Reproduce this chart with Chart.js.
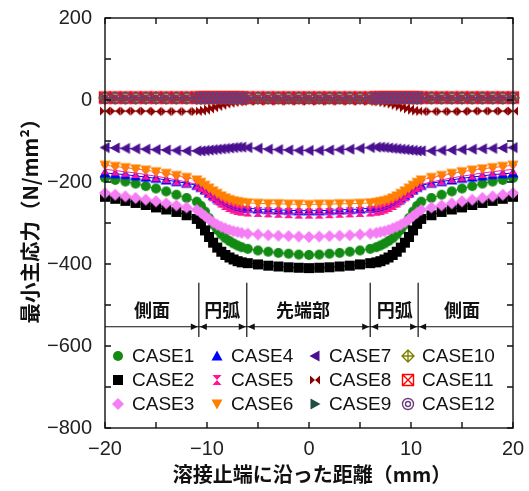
<!DOCTYPE html>
<html lang="ja">
<head>
<meta charset="UTF-8">
<title>最小主応力</title>
<style>
body { margin:0; padding:0; background:#fff; }
#wrap { width:529px; height:491px; position:relative; }
</style>
</head>
<body>
<div id="wrap"><canvas id="c"></canvas></div>
<script src="https://cdn.jsdelivr.net/npm/chart.js"></script>
<script>
// distance along weld toe (mm)
const xs = [-20,-19,-18,-17,-16,-15,-14,-13,-12,-11,
  -10.6,-10.2,-9.8,-9.4,-9,-8.6,-8.2,-7.8,-7.4,-7,-6.6,
  -6,-5,-4,-3,-2,-1,0,1,2,3,4,5,6,
  6.6,7,7.4,7.8,8.2,8.6,9,9.4,9.8,10.2,10.6,
  11,12,13,14,15,16,17,18,19,20];

const case1 = [-190,-195,-199,-204,-210,-216,-223,-231,-239,-248,
  -258,-272,-288,-304,-317,-328,-337,-344,-350,-355,-359,
  -363,-367,-370,-373,-375,-377,-378,-377,-375,-373,-370,-367,-363,
  -359,-355,-350,-344,-337,-328,-317,-304,-288,-272,-258,
  -248,-239,-231,-223,-216,-210,-204,-199,-195,-190];
const case2 = [-236,-241,-246,-251,-256,-262,-267,-273,-281,-290,
  -302,-318,-334,-348,-360,-370,-378,-384,-389,-393,-396,
  -398,-401,-404,-406,-408,-409,-410,-409,-408,-406,-404,-401,-398,
  -396,-393,-389,-384,-378,-370,-360,-348,-334,-318,-302,
  -290,-281,-273,-267,-262,-256,-251,-246,-241,-236];
const case3 = [-227,-231,-235,-239,-243,-247,-252,-257,-262,-268,
  -275,-283,-291,-298,-304,-309,-313,-317,-320,-322,-324,
  -326,-328,-330,-331,-332,-333,-334,-333,-332,-331,-330,-328,-326,
  -324,-322,-320,-317,-313,-309,-304,-298,-291,-283,-275,
  -268,-262,-257,-252,-247,-243,-239,-235,-231,-227];
const case4 = [-178,-180,-182,-185,-188,-191,-195,-199,-203,-208,
  -213,-219,-226,-233,-240,-246,-251,-255,-258,-261,-263,
  -264,-266,-267,-268,-269,-270,-270,-270,-269,-268,-267,-266,-264,
  -263,-261,-258,-255,-251,-246,-240,-233,-226,-219,-213,
  -208,-203,-199,-195,-191,-188,-185,-182,-180,-178];
const case5 = [-169,-172,-175,-178,-182,-186,-190,-195,-200,-206,
  -212,-219,-227,-235,-243,-250,-256,-261,-265,-268,-270,
  -272,-273,-274,-275,-276,-277,-277,-277,-276,-275,-274,-273,-272,
  -270,-268,-265,-261,-256,-250,-243,-235,-227,-219,-212,
  -206,-200,-195,-190,-186,-182,-178,-175,-172,-169];
const case6 = [-159,-162,-165,-168,-171,-175,-179,-184,-189,-195,
  -201,-208,-215,-222,-228,-234,-239,-243,-246,-248,-250,
  -251,-252,-253,-253,-254,-254,-255,-254,-254,-253,-253,-252,-251,
  -250,-248,-246,-243,-239,-234,-228,-222,-215,-208,-201,
  -195,-189,-184,-179,-175,-171,-168,-165,-162,-159];
const case7 = [-116,-117,-118,-119,-120,-121,-122,-123,-124,-124,
  -124,-123,-122,-121,-120,-119,-118,-117,-116,-115,-115,
  -116,-118,-120,-121,-122,-123,-123,-123,-122,-121,-120,-118,-116,
  -115,-115,-116,-117,-118,-119,-120,-121,-122,-123,-124,
  -124,-124,-123,-122,-121,-120,-119,-118,-117,-116];
const case8 = [-27,-27,-27,-27,-27,-28,-28,-28,-28,-28,
  -27,-25,-22,-19,-16,-13,-10,-8,-6,-5,-4,
  -3,-3,-3,-3,-3,-3,-3,-3,-3,-3,-3,-3,-3,
  -4,-5,-6,-8,-10,-13,-16,-19,-22,-25,-27,
  -28,-28,-28,-28,-28,-27,-27,-27,-27,-27];
const case9 = [3,3,3,3,3,3,3,3,3,3,
  3,3,3,3,3,3,3,3,3,3,3,
  2,2,2,2,2,2,2,2,2,2,2,2,2,
  3,3,3,3,3,3,3,3,3,3,3,
  3,3,3,3,3,3,3,3,3,3];
const case10 = [5,5,5,5,5,5,5,5,5,5,
  5,5,5,5,5,5,5,5,5,5,5,
  5,5,5,5,5,5,5,5,5,5,5,5,5,
  5,5,5,5,5,5,5,5,5,5,5,
  5,5,5,5,5,5,5,5,5,5];
const case11 = [6,6,6,6,6,6,6,6,6,6,
  6,6,6,6,6,6,6,6,6,6,6,
  6,6,6,6,6,6,6,6,6,6,6,6,6,
  6,6,6,6,6,6,6,6,6,6,6,
  6,6,6,6,6,6,6,6,6,6];
const case12 = [5,5,5,5,5,5,5,5,5,5,
  5,5,5,5,5,5,5,5,5,5,5,
  5,5,5,5,5,5,5,5,5,5,5,5,5,
  5,5,5,5,5,5,5,5,5,5,5,
  5,5,5,5,5,5,5,5,5,5];

const caseNames = ['CASE1','CASE2','CASE3','CASE4','CASE5','CASE6','CASE7','CASE8','CASE9','CASE10','CASE11','CASE12'];
const caseValues = [case1,case2,case3,case4,case5,case6,case7,case8,case9,case10,case11,case12];
const caseColors = ['#138a13','#000000','#f57ef5','#0000ff','#ff1493','#ff8000','#4b1090','#8b0000','#1e4d45','#808000','#ff0000','#6e3d7c'];
const caseMarkers = ['circle','square','diamond','up','hourglass','down','left','bowtie','right','diamondCross','squareX','ring2'];

const xTickLabels = [-20,-10,0,10,20];
const yTickLabels = [200,0,-200,-400,-600,-800];

// region annotation (mm)
const regionBounds = [-10.8,-6.1,6.0,10.7];
const regionNames = ['側面','円弧','先端部','円弧','側面'];
const regionCenters = [-15.4,-8.5,-0.6,8.4,15.0];

function marker(kind, color) {
  const s = 16, c = document.createElement('canvas');
  c.width = s; c.height = s;
  const g = c.getContext('2d');
  g.translate(s/2, s/2);
  g.fillStyle = color; g.strokeStyle = color; g.lineWidth = 1.4;
  g.beginPath();
  switch (kind) {
    case 'circle': g.arc(0,0,5,0,2*Math.PI); g.fill(); break;
    case 'square': g.fillRect(-5,-5,10,10); break;
    case 'diamond': g.moveTo(0,-6); g.lineTo(6,0); g.lineTo(0,6); g.lineTo(-6,0); g.closePath(); g.fill(); break;
    case 'up': g.moveTo(0,-5.5); g.lineTo(5.5,4.5); g.lineTo(-5.5,4.5); g.closePath(); g.fill(); break;
    case 'down': g.moveTo(0,5.5); g.lineTo(5.5,-4.5); g.lineTo(-5.5,-4.5); g.closePath(); g.fill(); break;
    case 'left': g.moveTo(-5.5,0); g.lineTo(4.5,-5.5); g.lineTo(4.5,5.5); g.closePath(); g.fill(); break;
    case 'right': g.moveTo(5.5,0); g.lineTo(-4.5,-5.5); g.lineTo(-4.5,5.5); g.closePath(); g.fill(); break;
    case 'hourglass':
      g.moveTo(-4.5,-5); g.lineTo(4.5,-5); g.lineTo(0,0); g.closePath();
      g.moveTo(-4.5,5); g.lineTo(4.5,5); g.lineTo(0,0); g.closePath(); g.fill(); break;
    case 'bowtie':
      g.moveTo(-5,-4.5); g.lineTo(-5,4.5); g.lineTo(0,0); g.closePath();
      g.moveTo(5,-4.5); g.lineTo(5,4.5); g.lineTo(0,0); g.closePath(); g.fill(); break;
    case 'diamondCross':
      g.moveTo(0,-6); g.lineTo(6,0); g.lineTo(0,6); g.lineTo(-6,0); g.closePath();
      g.moveTo(0,-6); g.lineTo(0,6); g.moveTo(-6,0); g.lineTo(6,0); g.stroke(); break;
    case 'squareX':
      g.rect(-5.5,-5.5,11,11);
      g.moveTo(-5.5,-5.5); g.lineTo(5.5,5.5); g.moveTo(5.5,-5.5); g.lineTo(-5.5,5.5); g.stroke(); break;
    case 'ring2':
      g.arc(0,0,5.5,0,2*Math.PI); g.stroke();
      g.beginPath(); g.arc(0,0,2.5,0,2*Math.PI); g.stroke(); break;
  }
  return c;
}

const markerImgs = caseMarkers.map((m, i) => marker(m, caseColors[i]));

const datasets = caseNames.map((name, i) => ({
  label: name,
  data: xs.map((x, j) => ({ x: x, y: caseValues[i][j] })),
  borderColor: caseColors[i],
  backgroundColor: caseColors[i],
  borderWidth: 1,
  pointStyle: markerImgs[i],
  pointRadius: 5,
  showLine: true,
  order: 12 - i,
  clip: 8
}));

const frame = {
  id: 'frame',
  afterDatasetsDraw(chart) {
    const { ctx, chartArea: a, scales: { x, y } } = chart;
    ctx.save();
    // region annotation
    const yl = y.getPixelForValue(-553);
    ctx.strokeStyle = '#111'; ctx.fillStyle = '#111'; ctx.lineWidth = 1.2;
    ctx.beginPath(); ctx.moveTo(a.left, yl); ctx.lineTo(a.right, yl); ctx.stroke();
    regionBounds.forEach(b => {
      const px = x.getPixelForValue(b);
      ctx.beginPath();
      ctx.moveTo(px, y.getPixelForValue(-446));
      ctx.lineTo(px, y.getPixelForValue(-578));
      ctx.stroke();
      [-1, 1].forEach(d => {
        ctx.beginPath();
        ctx.moveTo(px + d * 1, yl);
        ctx.lineTo(px + d * 8, yl - 3.2);
        ctx.lineTo(px + d * 8, yl + 3.2);
        ctx.closePath(); ctx.fill();
      });
    });
    ctx.font = 'bold 18px "Noto Sans CJK JP"';
    ctx.textAlign = 'center'; ctx.textBaseline = 'middle';
    regionNames.forEach((t, i) => {
      ctx.fillText(t, x.getPixelForValue(regionCenters[i]), y.getPixelForValue(-512));
    });

    // legend in 4 columns x 3 rows
    const colX = [118, 217, 315, 408], rowY = [356, 380, 404];
    ctx.font = '19px "Liberation Sans"';
    ctx.textAlign = 'left';
    caseNames.forEach((name, i) => {
      const cx = colX[Math.floor(i / 3)], cy = rowY[i % 3];
      const img = markerImgs[i];
      ctx.drawImage(img, cx - img.width / 2, cy - img.height / 2);
      ctx.fillStyle = '#111';
      ctx.fillText(name, cx + 14, cy + 1);
    });

    // frame and inward ticks
    ctx.strokeStyle = '#111'; ctx.lineWidth = 1.4;
    ctx.strokeRect(a.left, a.top, a.right - a.left, a.bottom - a.top);
    ctx.beginPath();
    x.ticks.forEach(t => {
      const px = x.getPixelForValue(t.value);
      ctx.moveTo(px, a.bottom); ctx.lineTo(px, a.bottom - 6);
      ctx.moveTo(px, a.top); ctx.lineTo(px, a.top + 6);
    });
    y.ticks.forEach(t => {
      const py = y.getPixelForValue(t.value);
      ctx.moveTo(a.left, py); ctx.lineTo(a.left + 6, py);
      ctx.moveTo(a.right, py); ctx.lineTo(a.right - 6, py);
    });
    ctx.stroke();

    // axis titles
    ctx.fillStyle = '#111';
    ctx.font = 'bold 20px "Noto Sans CJK JP"';
    ctx.textAlign = 'center'; ctx.textBaseline = 'middle';
    ctx.fillText('溶接止端に沿った距離（mm）', 312, 474);
    ctx.font = 'bold 20.5px "Noto Sans CJK JP"';
    ctx.translate(30, 216);
    ctx.rotate(-Math.PI / 2);
    ctx.fillText('最小主応力（N/mm²）', 0, 0);
    ctx.restore();
  }
};

const tickFont = { family: '"Liberation Sans", Arial, sans-serif', size: 20 };

new Chart(document.getElementById('c'), {
  type: 'line',
  data: { datasets: datasets },
  options: {
    responsive: true,
    maintainAspectRatio: false,
    animation: false,
    layout: { padding: { left: 0, right: 16, top: 18, bottom: 0 } },
    plugins: { legend: { display: false }, tooltip: { enabled: false } },
    scales: {
      x: {
        type: 'linear', min: -20, max: 20,
        grid: { display: false }, border: { display: false },
        ticks: {
          stepSize: 5, autoSkip: false, maxRotation: 0, padding: 1,
          font: tickFont, color: '#222',
          callback: v => xTickLabels.includes(v) ? String(v).replace('-', '\u2212') : ''
        },
        afterFit: s => { s.height = 63; }
      },
      y: {
        type: 'linear', min: -800, max: 200,
        grid: { display: false }, border: { display: false },
        ticks: {
          stepSize: 100, autoSkip: false, padding: 5,
          font: tickFont, color: '#222',
          callback: v => yTickLabels.includes(v) ? String(v).replace('-', '\u2212') : ''
        },
        afterFit: s => { s.width = 105; }
      }
    }
  },
  plugins: [frame]
});
</script>
</body>
</html>
